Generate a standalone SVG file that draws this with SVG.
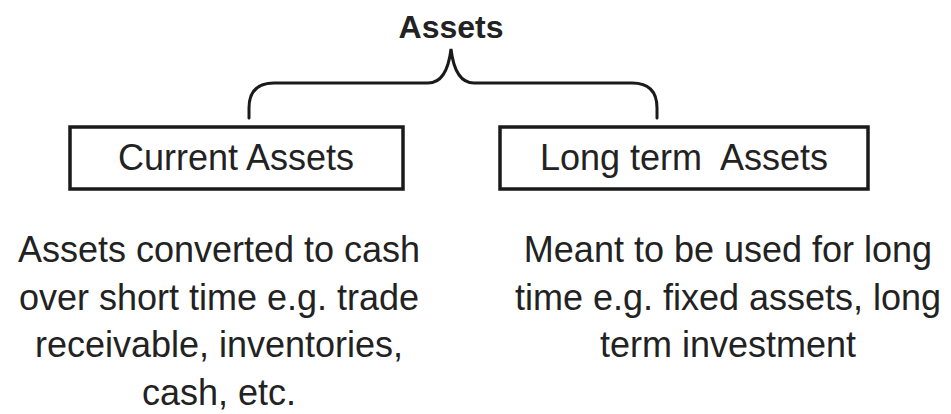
<svg xmlns="http://www.w3.org/2000/svg" width="951" height="414" viewBox="0 0 951 414">
<style>
text{font-family:"Liberation Sans",Arial,sans-serif;fill:#222;text-anchor:middle}
.title{font-size:32px;font-weight:bold}
.lbl{font-size:36px}
.desc{font-size:36px}
.box{fill:#fff;stroke:#1a1a1a;stroke-width:3.5}
.conn{fill:none;stroke:#1a1a1a;stroke-width:3;stroke-linecap:round}
</style>
<rect width="951" height="414" fill="#fff"/>
<g id="assets"><text class="title" x="451" y="38">Assets</text></g>
<g id="connectors">
<path class="conn" d="M249,118 L249,108 Q249,83 274,83 L428,83 Q447,83 451,49 Q455,83 474,83 L632,83 Q657,83 657,108 L657,118"/>
</g>
<g id="current-assets">
<rect class="box" x="70" y="127" width="333" height="62"/>
<text class="lbl" x="236" y="170">Current Assets</text>
</g>
<g id="long-term-assets">
<rect class="box" x="500" y="127" width="368" height="62"/>
<text class="lbl" x="684" y="170" xml:space="preserve">Long term  Assets</text>
</g>
<g id="current-desc">
<text class="desc" x="219" y="262">Assets converted to cash</text>
<text class="desc" x="219" y="310">over short time e.g. trade</text>
<text class="desc" x="219" y="357">receivable, inventories,</text>
<text class="desc" x="219" y="405">cash, etc.</text>
</g>
<g id="long-desc">
<text class="desc" x="728" y="262">Meant to be used for long</text>
<text class="desc" x="728" y="310">time e.g. fixed assets, long</text>
<text class="desc" x="728" y="357">term investment</text>
</g>
</svg>
